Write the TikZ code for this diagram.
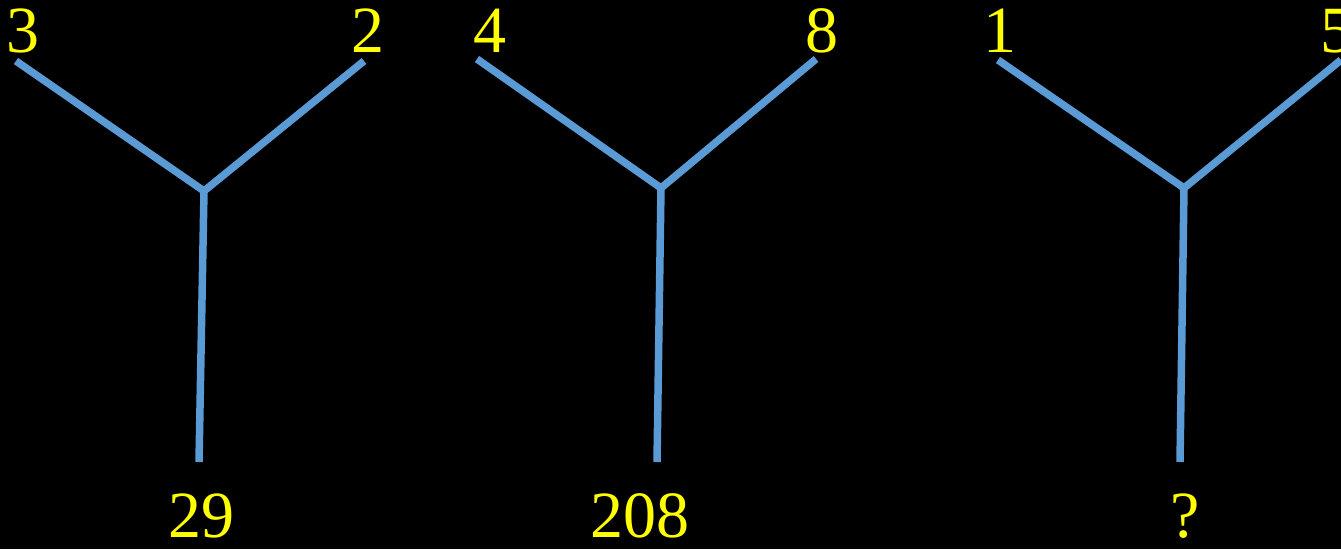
\documentclass[tikz,border=0pt]{standalone}
\usepackage{fontspec}
\setmainfont{Liberation Serif}
\begin{document}
\begin{tikzpicture}[x=1pt,y=-1pt,
  arm/.style={draw={rgb,255:red,91;green,155;blue,213},line width=7.5pt},
  num/.style={text={rgb,255:red,255;green,255;blue,0},anchor=base,inner sep=0pt,font=\fontsize{66}{70}\selectfont}]
\fill[black] (0,0) rectangle (1341,549);
\useasboundingbox (0,0) rectangle (1341,549);
\clip (0,0) rectangle (1341,549);
% first Y
\coordinate (a1) at (16,61);
\coordinate (b1) at (364,61);
\coordinate (j1) at (204,191);
\coordinate (s1) at (199,462);
\draw[arm] (a1) -- (j1) -- (b1);
\draw[arm] (j1) -- (s1);
\node[num] (t3) at (23,52) {3};
\node[num] (t2) at (368,52) {2};
\node[num] (t29) at (201,537) {29};
% second Y
\coordinate (a2) at (477,59);
\coordinate (b2) at (816,59);
\coordinate (j2) at (661,188);
\coordinate (s2) at (657,462);
\draw[arm] (a2) -- (j2) -- (b2);
\draw[arm] (j2) -- (s2);
\node[num] (t4) at (490,52) {4};
\node[num] (t8) at (822,52) {8};
\node[num] (t208) at (640,537) {208};
% third Y
\coordinate (a3) at (998,60);
\coordinate (b3) at (1341,60);
\coordinate (j3) at (1184,188);
\coordinate (s3) at (1180,462);
\draw[arm] (a3) -- (j3) -- (b3);
\draw[arm] (j3) -- (s3);
\node[num] (t1) at (1000,52) {1};
\node[num] (t5) at (1337,52) {5};
\node[num] (tq) at (1185,537) {?};
\end{tikzpicture}
\end{document}
